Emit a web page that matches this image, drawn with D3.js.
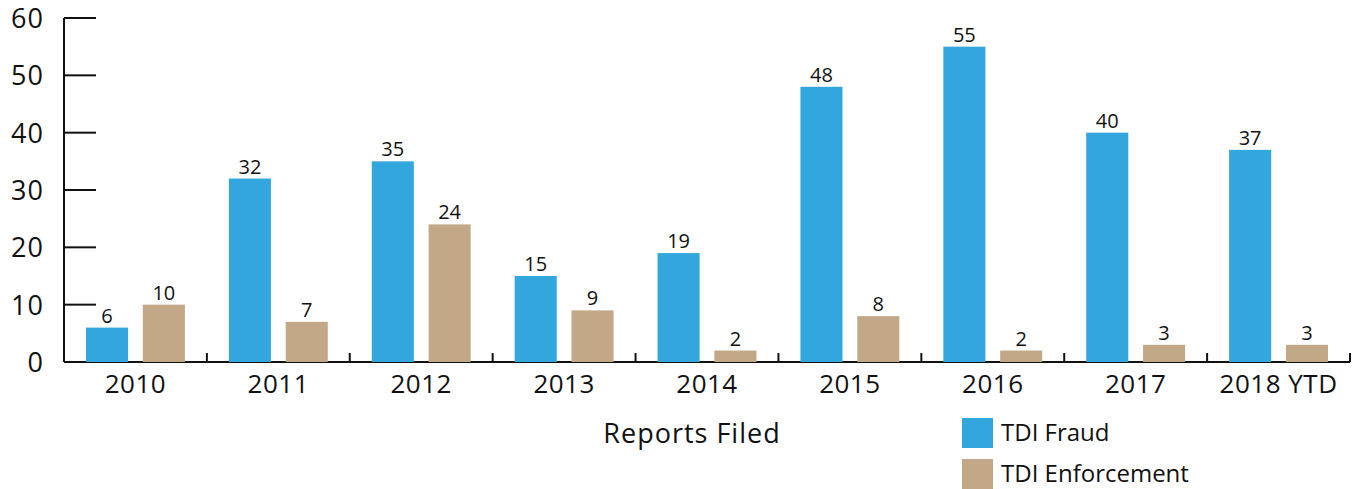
<!DOCTYPE html>
<html>
<head>
<meta charset="utf-8">
<script src="https://cdn.jsdelivr.net/npm/d3@7"></script>
<style>
  body { margin: 0; background: #fff; }
  text { font-family: "Open Sans", sans-serif; fill: #111; }
</style>
</head>
<body>
<script>
var width = 1354;
var height = 489;

// data
var years = ["2010", "2011", "2012", "2013", "2014", "2015", "2016", "2017", "2018 YTD"];
var fraud = [6, 32, 35, 15, 19, 48, 55, 40, 37];
var enforcement = [10, 7, 24, 9, 2, 8, 2, 3, 3];
var seriesNames = ["TDI Fraud", "TDI Enforcement"];
var yTicks = [0, 10, 20, 30, 40, 50, 60];

var colors = ["#33a6dd", "#c2a886"];

var svg = d3.select("body").append("svg")
  .attr("width", width)
  .attr("height", height);

var x = d3.scaleBand().domain(years).range([64, 1350]);
var inner = d3.scaleBand().domain([0, 1]).range([22, x.bandwidth() - 22]).paddingInner(0.26);
var y = d3.scaleLinear().domain([0, 60]).range([362, 18]);

// y axis
svg.append("line")
  .attr("x1", 64).attr("x2", 64)
  .attr("y1", y(60)).attr("y2", y(0))
  .attr("stroke", "#111").attr("stroke-width", 2);

svg.selectAll(".ytick").data(yTicks).enter().append("line")
  .attr("x1", 64).attr("x2", 96)
  .attr("y1", function (d) { return y(d); })
  .attr("y2", function (d) { return y(d); })
  .attr("stroke", "#111").attr("stroke-width", 2);

svg.selectAll(".ylab").data(yTicks).enter().append("text")
  .attr("x", 44)
  .attr("y", function (d) { return y(d) + 10; })
  .attr("text-anchor", "end")
  .style("font-size", "27px")
  .style("letter-spacing", "1px")
  .text(function (d) { return d; });

// x axis
svg.append("line")
  .attr("x1", 64).attr("x2", 1350)
  .attr("y1", y(0)).attr("y2", y(0))
  .attr("stroke", "#111").attr("stroke-width", 2);

svg.selectAll(".xtick").data(years).enter().append("line")
  .attr("x1", function (d) { return x(d) + x.step(); })
  .attr("x2", function (d) { return x(d) + x.step(); })
  .attr("y1", y(0)).attr("y2", y(0) - 9)
  .attr("stroke", "#111").attr("stroke-width", 2);

svg.selectAll(".xlab").data(years).enter().append("text")
  .attr("x", function (d) { return x(d) + x.bandwidth() / 2; })
  .attr("y", 393)
  .attr("text-anchor", "middle")
  .style("font-size", "26px")
  .style("letter-spacing", "0.5px")
  .text(function (d) { return d; });

// bars
[fraud, enforcement].forEach(function (vals, s) {
  var g = svg.append("g");
  g.selectAll("rect").data(vals).enter().append("rect")
    .attr("x", function (d, i) { return x(years[i]) + inner(s); })
    .attr("y", function (d) { return y(d); })
    .attr("width", inner.bandwidth())
    .attr("height", function (d) { return y(0) - y(d); })
    .attr("fill", colors[s]);
  g.selectAll("text").data(vals).enter().append("text")
    .attr("x", function (d, i) { return x(years[i]) + inner(s) + inner.bandwidth() / 2; })
    .attr("y", function (d) { return y(d) - 5; })
    .attr("text-anchor", "middle")
    .style("font-size", "20px")
    .text(function (d) { return d; });
});

// axis title
svg.append("text")
  .attr("x", 692).attr("y", 443)
  .attr("text-anchor", "middle")
  .style("font-size", "27px")
  .style("letter-spacing", "1px")
  .text("Reports Filed");

// legend
var legend = svg.selectAll(".legend").data(seriesNames).enter().append("g")
  .attr("transform", function (d, i) { return "translate(962," + (418 + i * 41) + ")"; });
legend.append("rect")
  .attr("width", 31).attr("height", 30)
  .attr("fill", function (d, i) { return colors[i]; });
legend.append("text")
  .attr("x", 39).attr("y", 23)
  .style("font-size", "24px")
  .text(function (d) { return d; });
</script>
</body>
</html>
